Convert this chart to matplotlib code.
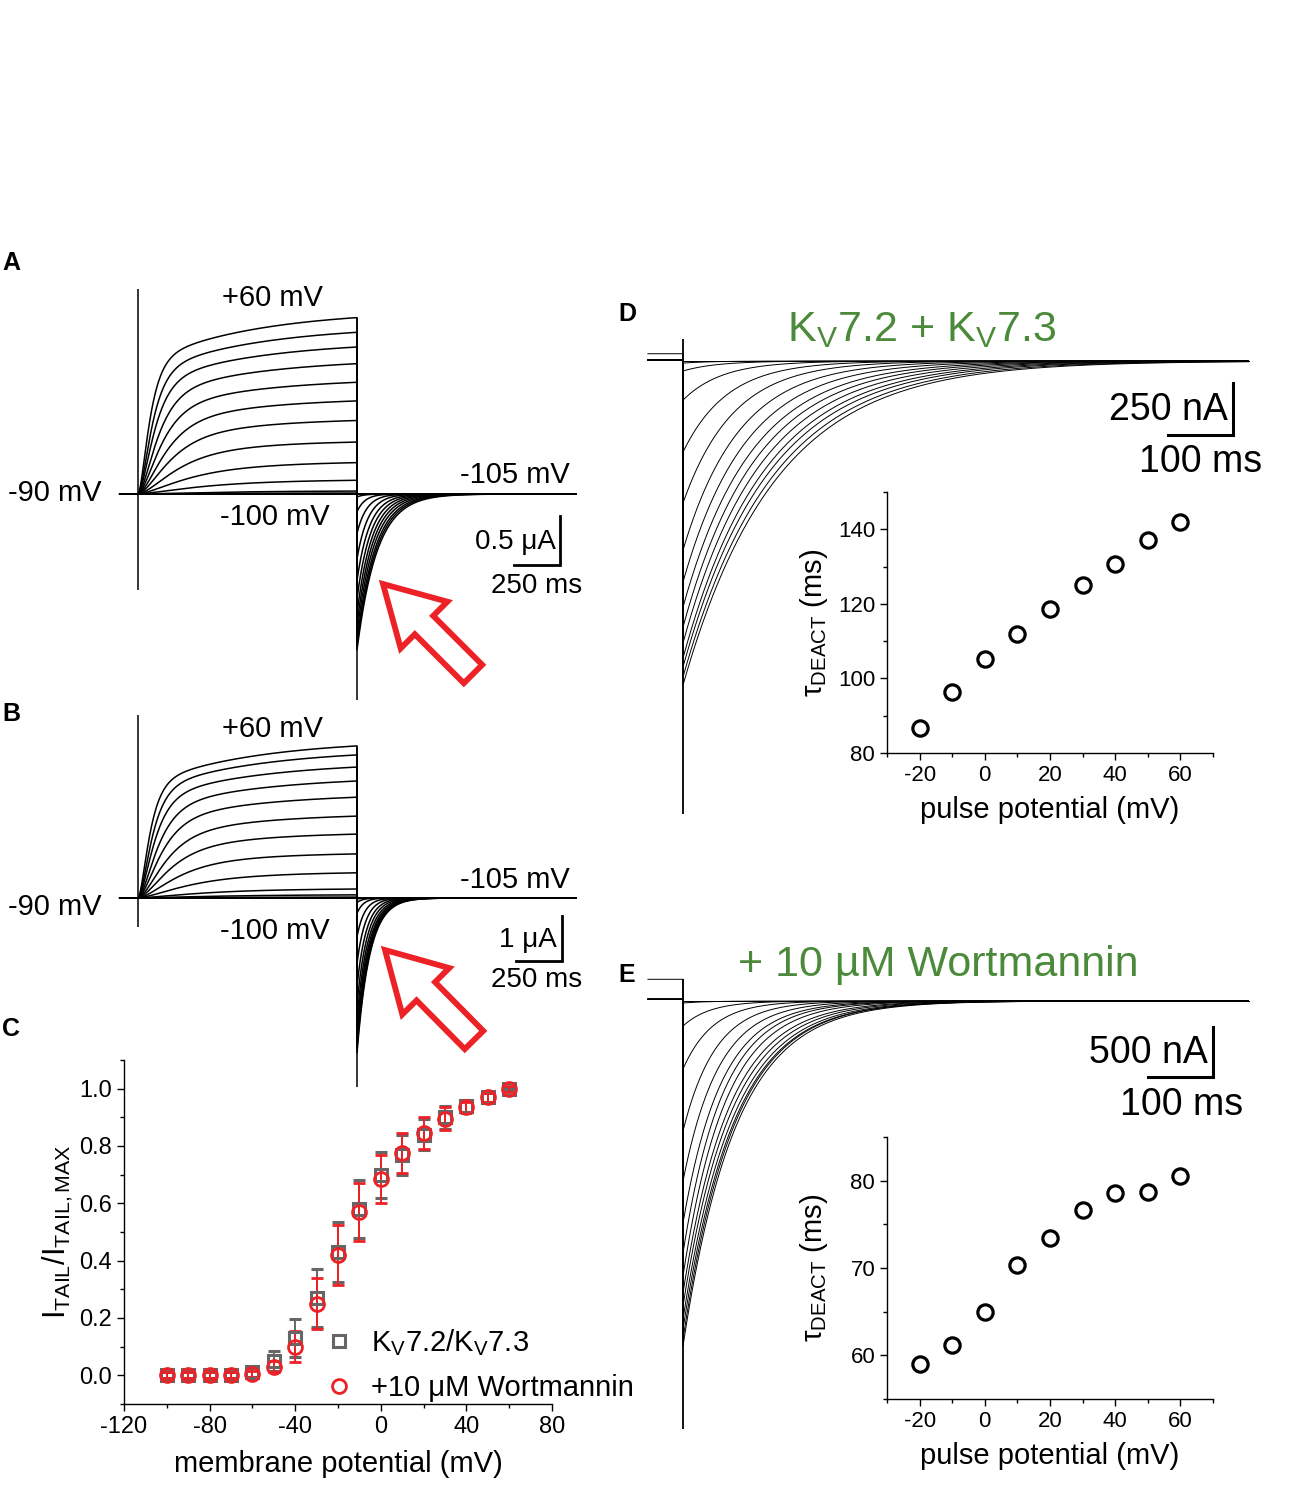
import numpy as np
import matplotlib
matplotlib.use('Agg')
import matplotlib.pyplot as plt
from matplotlib.patches import FancyArrow
from matplotlib.lines import Line2D
from matplotlib.ticker import MultipleLocator, FormatStrFormatter

plt.rcParams['font.family'] = ['Liberation Sans', 'DejaVu Sans']
plt.rcParams['mathtext.fontset'] = 'custom'
plt.rcParams['mathtext.rm'] = 'Liberation Sans'
plt.rcParams['mathtext.it'] = 'Liberation Sans:italic'
plt.rcParams['mathtext.bf'] = 'Liberation Sans:bold'
plt.rcParams['axes.unicode_minus'] = False

W, H = 1292, 1486

# ---- panels A/B: activation families (-100 .. +60 mV, 1.2 s steps, tail at -105 mV)
step_mv = [-100, -90, -80, -70, -60, -50, -40, -30, -20, -10, 0, 10, 20, 30, 40, 50, 60]
act_tau_fast = [400, 400, 400, 400, 400, 400, 350, 260, 210, 170, 140, 120, 100, 85, 70, 60, 50]
act_w_fast = [0.3, 0.3, 0.3, 0.3, 0.3, 0.3, 0.4, 0.5, 0.6, 0.7, 0.7, 0.7, 0.7, 0.7, 0.7, 0.7, 0.7]
act_A_uA = [0, 0, 0, 0, 0, 0.01, 0.03, 0.14, 0.32, 0.53, 0.75, 0.95, 1.14, 1.33, 1.50, 1.65, 1.80]
tail_A_uA = [0, 0, 0, 0, 0, -0.03, -0.18, -0.40, -0.66, -0.88, -1.07, -1.22, -1.33, -1.42, -1.50, -1.55, -1.59]
tail_tau_A = [30, 30, 30, 30, 35, 40, 45, 55, 62, 70, 76, 82, 88, 94, 100, 105, 110]
act_B_uA = [0, 0, 0, 0, 0, 0.02, 0.07, 0.20, 0.56, 0.98, 1.42, 1.82, 2.24, 2.60, 2.91, 3.18, 3.38]
tail_B_uA = [0, 0, 0, 0, -0.02, -0.10, -0.34, -0.86, -1.45, -1.96, -2.36, -2.66, -2.90, -3.08, -3.22, -3.34, -3.44]
tail_tau_B = [25, 25, 25, 25, 28, 32, 36, 42, 47, 52, 56, 60, 63, 65, 67, 69, 70]
cap_A = (2.09, -0.98, -2.10)
cap_B = (4.07, -0.64, -4.20)

# ---- panel C: normalised tail currents
gv_mv = [-100, -90, -80, -70, -60, -50, -40, -30, -20, -10, 0, 10, 20, 30, 40, 50, 60]
gv_ctrl = [0.0, 0.0, 0.0, 0.0, 0.01, 0.05, 0.13, 0.27, 0.43, 0.58, 0.70, 0.77, 0.84, 0.90, 0.94, 0.97, 1.0]
gv_ctrl_err = [0.01, 0.01, 0.01, 0.01, 0.015, 0.035, 0.065, 0.10, 0.105, 0.10, 0.08, 0.07, 0.055, 0.04, 0.02, 0.015, 0.005]
gv_wort = [0.0, 0.0, 0.0, 0.0, 0.005, 0.03, 0.10, 0.25, 0.42, 0.57, 0.685, 0.775, 0.845, 0.895, 0.935, 0.97, 1.0]
gv_wort_err = [0.01, 0.01, 0.01, 0.01, 0.01, 0.02, 0.055, 0.09, 0.105, 0.10, 0.085, 0.07, 0.055, 0.04, 0.02, 0.015, 0.01]

# ---- panels D/E: deactivation tails (-80 .. +60 mV prepulses)
deact_mv = [-80, -70, -60, -50, -40, -30, -20, -10, 0, 10, 20, 30, 40, 50, 60]
deact_ctrl_nA = [0, 10, 48, 188, 438, 683, 909, 1063, 1183, 1279, 1356, 1428, 1471, 1519, 1558]
deact_wort_nA = [0, 20, 250, 680, 1300, 1800, 2220, 2520, 2750, 2920, 3050, 3180, 3280, 3380, 3450]
pre_ctrl_nA = [5, 5, 5, 5, 5, 5, 5, 5, 5, 5, 5, 5, 5, 5, 35]
pre_wort_nA = [17, 17, 17, 17, 17, 17, 17, 17, 17, 17, 17, 17, 17, 17, 217]
cap_D = (106, -2180)
cap_E = (217, -4280)

tau_mv = [-20, -10, 0, 10, 20, 30, 40, 50, 60]
tau_ctrl_ms = [86.7, 96.3, 105.2, 111.9, 118.7, 125.1, 130.7, 137.0, 142.0]
tau_wort_ms = [59.0, 61.2, 65.0, 70.3, 73.4, 76.6, 78.6, 78.7, 80.5]
deact_tau_ctrl = [40, 45, 52, 60, 68, 77] + tau_ctrl_ms
deact_tau_wort = [35, 38, 42, 46, 50, 55] + tau_wort_ms

RED = '#ec2227'
GRAY = '#666666'
GREEN = '#4b8a3b'

fig = plt.figure(figsize=(W / 100, H / 100), dpi=100)


def px_axes(left, top, right, bottom):
    ax = fig.add_axes([left / W, 1 - bottom / H, (right - left) / W, (bottom - top) / H])
    ax.patch.set_visible(False)
    return ax


def trace_axes(box, x0, xs, y0, ys):
    l, t, r, b = box
    ax = px_axes(l, t, r, b)
    ax.set_xlim((l - x0) * xs, (r - x0) * xs)
    ax.set_ylim((y0 - b) * ys, (y0 - t) * ys)
    ax.set_axis_off()
    return ax


def family(ax, acts, tails, taus, cap, step=1200.0):
    t_act = np.linspace(0, step, 500)
    t_tail = np.linspace(0, step, 700)
    for amp, tf, w, tail, tau in zip(acts, act_tau_fast, act_w_fast, tails, taus):
        shape = w * (1 - np.exp(-t_act / tf)) ** 2 + (1 - w) * (1 - np.exp(-t_act / 600.0))
        shape = shape / shape[-1]
        x = np.concatenate([[-100, 0], t_act, step + t_tail])
        y = np.concatenate([[0, 0], amp * shape, tail * np.exp(-t_tail / tau)])
        ax.plot(x, y, color='k', lw=1.1)
    ax.vlines(0, cap[1], cap[0], color='k', lw=1.1)
    ax.vlines(step, cap[2], max(acts), color='k', lw=1.1)


def scale_bar(ax, x_end, y_top, dx, dy, lw=2.0):
    ax.plot([x_end - dx, x_end, x_end], [y_top - dy, y_top - dy, y_top], color='k', lw=lw,
            solid_joinstyle='miter')


# ---------------- A
ax_a = trace_axes((0, 250, 640, 720), 138, 1200 / 219, 494, 0.5 / 49)
family(ax_a, act_A_uA, tail_A_uA, tail_tau_A, cap_A)
scale_bar(ax_a, 2312, -0.224, 250, 0.5)
ax_a.text(2290, -0.49, '0.5 μA', ha='right', va='center', fontsize=20)
ax_a.text(2186, -0.94, '250 ms', ha='center', va='center', fontsize=20)
ax_a.text(734, 2.0, '+60 mV', ha='center', va='center', fontsize=21)
ax_a.text(2066, 0.194, '-105 mV', ha='center', va='center', fontsize=21)
ax_a.text(751, -0.235, '-100 mV', ha='center', va='center', fontsize=21)
ax_a.text(-455, 0.01, '-90 mV', ha='center', va='center', fontsize=21)

# ---------------- B
ax_b = trace_axes((0, 700, 640, 1100), 138, 1200 / 219, 898, 1 / 45)
family(ax_b, act_B_uA, tail_B_uA, tail_tau_B, cap_B)
scale_bar(ax_b, 2323, -0.4, 250, 1.0)
ax_b.text(2296, -0.93, '1 μA', ha='right', va='center', fontsize=20)
ax_b.text(2186, -1.82, '250 ms', ha='center', va='center', fontsize=20)
ax_b.text(734, 3.76, '+60 mV', ha='center', va='center', fontsize=21)
ax_b.text(2066, 0.40, '-105 mV', ha='center', va='center', fontsize=21)
ax_b.text(751, -0.73, '-100 mV', ha='center', va='center', fontsize=21)
ax_b.text(-455, -0.2, '-90 mV', ha='center', va='center', fontsize=21)

# ---------------- C
ax_c = px_axes(124, 1060, 552, 1404)
ax_c.errorbar(gv_mv, gv_ctrl, yerr=gv_ctrl_err, fmt='s', ms=8.5, mfc='none', mec=GRAY, mew=2.2,
              ecolor=GRAY, elinewidth=1.4, capsize=4.5, capthick=1.4)
ax_c.errorbar(gv_mv, gv_wort, yerr=gv_wort_err, fmt='o', ms=10, mfc='none', mec=RED, mew=2.0,
              ecolor=RED, elinewidth=1.4, capsize=4.5, capthick=1.4)
ax_c.set_xlim(-120, 80)
ax_c.set_ylim(-0.1, 1.1)
ax_c.xaxis.set_major_locator(MultipleLocator(40))
ax_c.xaxis.set_minor_locator(MultipleLocator(20))
ax_c.yaxis.set_major_locator(MultipleLocator(0.2))
ax_c.yaxis.set_minor_locator(MultipleLocator(0.1))
ax_c.yaxis.set_major_formatter(FormatStrFormatter('%.1f'))
ax_c.set_xlabel('membrane potential (mV)', fontsize=21)
ax_c.set_ylabel(r'I$_\mathregular{TAIL}$/I$_\mathregular{TAIL,MAX}$', fontsize=22)
ax_c.xaxis.set_label_coords(0.5, -0.135)
ax_c.yaxis.set_label_coords(-0.115, 0.5)
handles = [Line2D([], [], ls='none', marker='s', ms=8.5, mfc='none', mec=GRAY, mew=2.2),
           Line2D([], [], ls='none', marker='o', ms=10, mfc='none', mec=RED, mew=2.0)]
ax_c.legend(handles, [r'K$_\mathregular{V}$7.2/K$_\mathregular{V}$7.3', '+10 μM Wortmannin'],
            loc='lower left', bbox_to_anchor=(0.468, 0.005), frameon=False, fontsize=21,
            handlelength=1.0, handletextpad=0.6, borderpad=0, borderaxespad=0, labelspacing=0.55)


def style_axes(ax, size):
    for side in ('top', 'right'):
        ax.spines[side].set_visible(False)
    for side in ('left', 'bottom'):
        ax.spines[side].set_linewidth(1.0)
    ax.tick_params(which='major', direction='out', length=5, width=1, labelsize=size)
    ax.tick_params(which='minor', direction='out', length=3, width=1)


style_axes(ax_c, 17)

# ---------------- D / E traces
t_deact = np.linspace(0, 870, 800)


def deact_family(ax, amps, taus, pres, cap):
    for amp, tau, pre in zip(amps, taus, pres):
        x = np.concatenate([[-54, 0], t_deact])
        y = np.concatenate([[pre, pre], -amp * np.exp(-t_deact / tau)])
        ax.plot(x, y, color='k', lw=0.7)
    ax.vlines(0, cap[1], cap[0], color='k', lw=1.3)


ax_dt = trace_axes((640, 330, 1290, 830), 683, 100 / 65, 361, 250 / 52)
deact_family(ax_dt, deact_ctrl_nA, deact_tau_ctrl, pre_ctrl_nA, cap_D)
scale_bar(ax_dt, 846, -106, 100, 250, lw=2.2)
ax_dt.text(838, -236, '250 nA', ha='right', va='center', fontsize=27)
ax_dt.text(797, -486, '100 ms', ha='center', va='center', fontsize=27)

ax_et = trace_axes((640, 960, 1290, 1450), 683, 100 / 65, 1001, 10.0)
deact_family(ax_et, deact_wort_nA, deact_tau_wort, pre_wort_nA, cap_E)
scale_bar(ax_et, 815, -260, 100, 500, lw=2.2)
ax_et.text(807, -520, '500 nA', ha='right', va='center', fontsize=27)
ax_et.text(767, -1040, '100 ms', ha='center', va='center', fontsize=27)

# ---------------- D / E insets
for box, vals, ylim, major, minor in [((887, 492, 1213, 753), tau_ctrl_ms, (80, 150), 20, 10),
                                      ((887, 1137, 1213, 1399), tau_wort_ms, (55, 85), 10, 5)]:
    ax_i = px_axes(*box)
    ax_i.plot(tau_mv, vals, 'o', ms=11, mfc='none', mec='k', mew=2.3)
    ax_i.set_xlim(-30, 70)
    ax_i.set_ylim(*ylim)
    ax_i.xaxis.set_major_locator(MultipleLocator(20))
    ax_i.xaxis.set_minor_locator(MultipleLocator(10))
    ax_i.yaxis.set_major_locator(MultipleLocator(major))
    ax_i.yaxis.set_minor_locator(MultipleLocator(minor))
    style_axes(ax_i, 16)
    ax_i.set_xlabel('pulse potential (mV)', fontsize=21)
    ax_i.set_ylabel(r'$\mathregular{\tau_{DEACT}}$ (ms)', fontsize=21)
    ax_i.xaxis.set_label_coords(0.5, -0.165)
    ax_i.yaxis.set_label_coords(-0.175, 0.5)

# ---------------- overlay: panel letters, titles, arrows
ov = px_axes(0, 0, W, H)
ov.set_xlim(0, W)
ov.set_ylim(H, 0)
ov.set_axis_off()
for letter, x, y in [('A', 2, 263), ('B', 2, 714), ('C', 2, 1029), ('D', 618, 314), ('E', 618, 975)]:
    ov.text(x, y, letter, fontsize=18, fontweight='bold', ha='left', va='center')
ov.text(922, 330, r'K$_\mathregular{V}$7.2 + K$_\mathregular{V}$7.3', color=GREEN, fontsize=31,
        ha='center', va='center')
ov.text(938, 965, '+ 10 µM Wortmannin', color=GREEN, fontsize=31, ha='center', va='center')
for tail_x, tail_y, tip_x, tip_y in [(473, 674, 383, 584), (474, 1040, 385, 950)]:
    ov.add_patch(FancyArrow(tail_x, tail_y, tip_x - tail_x, tip_y - tail_y, width=26, head_width=66,
                            head_length=58, length_includes_head=True, fill=False, ec=RED, lw=4.2,
                            joinstyle='miter'))

fig.savefig('out.png', dpi=100)
